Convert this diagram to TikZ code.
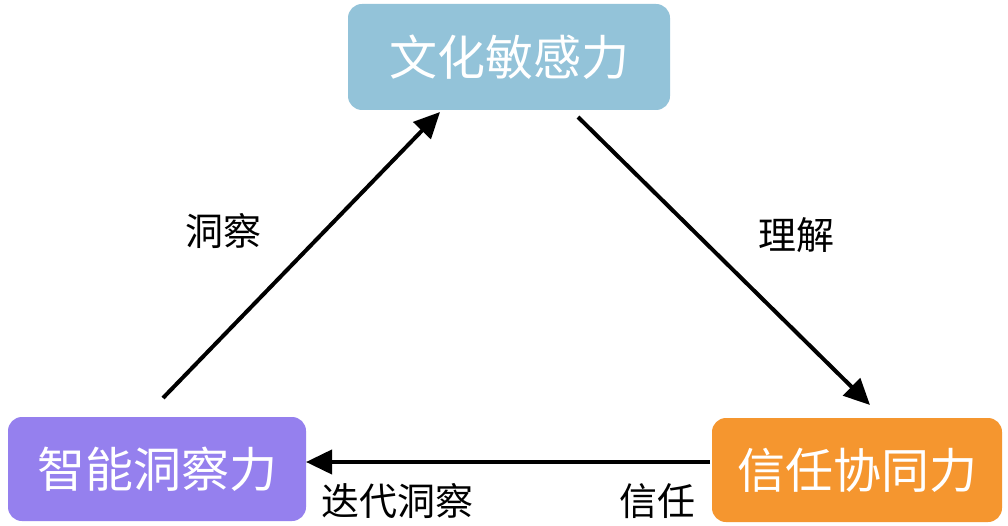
\documentclass[tikz,border=0pt]{standalone}
\usepackage{fontspec}
\newfontfamily\cjk{Noto Sans CJK SC}
\usetikzlibrary{arrows.meta}
\definecolor{topblue}{HTML}{93C3D9}
\definecolor{leftpurple}{HTML}{9580EE}
\definecolor{rightorange}{HTML}{F5962F}
\tikzset{
  box/.style={rounded corners=14pt, inner sep=0pt, text=white, font=\cjk\fontsize{48}{54}\selectfont},
  lbl/.style={font=\cjk\fontsize{38}{44}\selectfont, text=black, inner sep=0pt},
  conn/.style={line width=4pt, -{Triangle[length=26pt,width=24pt]}, shorten >=0pt}
}
\begin{document}
\begin{tikzpicture}[x=1pt,y=-1pt]
\useasboundingbox (0,0) rectangle (1008,526);
\fill[white] (0,0) rectangle (1008,526);
\node[box, fill=topblue, minimum width=322pt, minimum height=106pt] (top) at (509,57) {文化敏感力};
\node[box, fill=leftpurple, minimum width=298pt, minimum height=104pt] (left) at (157,469) {智能洞察力};
\node[box, fill=rightorange, minimum width=290pt, minimum height=104pt] (right) at (857,470) {信任协同力};
\coordinate (a1) at (163,398);
\coordinate (a2) at (440,112);
\coordinate (b1) at (578,117);
\coordinate (b2) at (870,405);
\coordinate (c1) at (710,462);
\coordinate (c2) at (306,462);
\draw[conn] (a1) -- (a2);
\draw[conn] (b1) -- (b2);
\draw[conn] (c1) -- (c2);
\node[lbl] (l1) at (223,231) {洞察};
\node[lbl] (l2) at (796,235) {理解};
\node[lbl] (l3) at (397,501) {迭代洞察};
\node[lbl] (l4) at (657,501) {信任};
\end{tikzpicture}
\end{document}
